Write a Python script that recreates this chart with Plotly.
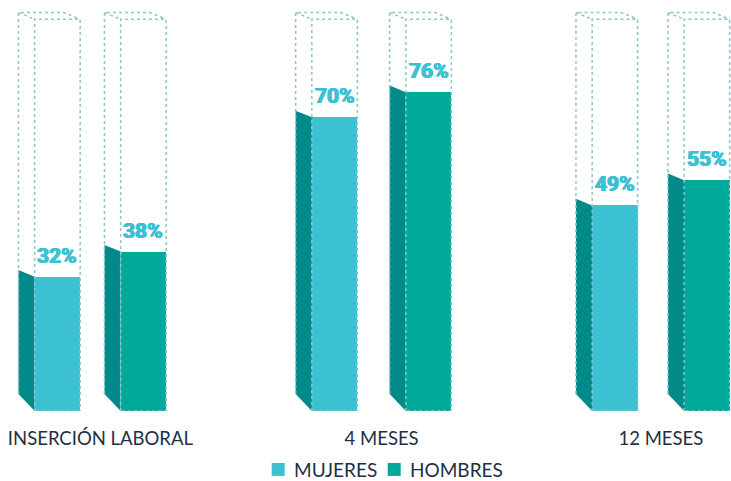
import plotly.graph_objects as go

# ---- data ----
categories = ["INSERCIÓN LABORAL", "4 MESES", "12 MESES"]
series_names = ["MUJERES", "HOMBRES"]
mujeres = [32, 70, 49]
hombres = [38, 76, 55]
label_suffix = "%"

# ---- layout constants (pixels map 1:1 to x units) ----
W, H = 731, 481
BOTTOM_PX = 411.5
PX_PER_PCT = 4.2
GROUP_CENTERS = [100.4, 381.6, 660.9]
HALF_GAP = [43, 47, 46]
FRONT_W = 45.5
SIDE_W = 16.2
TOP_OFF_PX = 6.7
BOT_OFF_PX = 17.0
OUTLINE_TOP_PX = 19.3
LEGEND_Y_PX = 470
LEGEND_SWATCH_X_PX = [271.7, 387.7]
LEGEND_SWATCH = 13
LEGEND_TEXT_GAP = 9

COL_M = "#3cc1d3"
COL_H = "#00a99a"
COL_SIDE = "#02898a"
COL_DOT = "#8ec4ca"
COL_TXT = "#1e2f45"
COL_LBL = "#3cc1d3"

plot_h = BOTTOM_PX
y_max = plot_h / PX_PER_PCT
top_off = TOP_OFF_PX / PX_PER_PCT
bot_off = BOT_OFF_PX / PX_PER_PCT
outline_top = (BOTTOM_PX - OUTLINE_TOP_PX) / PX_PER_PCT


def px_x(p):
    return p / W


def px_y(p):
    return (plot_h - p) / plot_h


fig = go.Figure()
shapes = []
annotations = []
heavy = f"0.7px 0 0 {COL_LBL}, -0.7px 0 0 {COL_LBL}, 0 0.4px 0 {COL_LBL}"

for si, (name, vals, col) in enumerate([(series_names[0], mujeres, COL_M),
                                        (series_names[1], hombres, COL_H)]):
    sign = -1 if si == 0 else 1
    xs = [c + sign * g for c, g in zip(GROUP_CENTERS, HALF_GAP)]
    fig.add_trace(go.Bar(x=xs, y=vals, width=FRONT_W, name=name,
                         marker=dict(color=col, line=dict(width=0)),
                         hoverinfo="skip"))
    for x, v in zip(xs, vals):
        xl = x - FRONT_W / 2
        xr = x + FRONT_W / 2
        xb = xl - SIDE_W
        # side face
        shapes.append(dict(type="path", xref="x", yref="y",
                           path=f"M{xl},{v} L{xb},{v + top_off} L{xb},{bot_off} L{xl},0 Z",
                           fillcolor=COL_SIDE, line=dict(width=0), layer="above"))
        # dotted outline
        ot = outline_top
        bt = outline_top + top_off
        dot = dict(color=COL_DOT, width=1.5, dash="dot")
        shapes.append(dict(type="path", xref="x", yref="y",
                           path=(f"M{xl},0 L{xl},{ot} L{xr},{ot} L{xr},0 Z "
                                 f"M{xb},{bot_off} L{xb},{bt} L{xr - SIDE_W},{bt} L{xr},{ot} "
                                 f"M{xb},{bt} L{xl},{ot}"),
                           line=dot, layer="above"))
        annotations.append(dict(x=x, y=v, xref="x", yref="y",
                                text=f"{v}{label_suffix}", showarrow=False,
                                yanchor="middle", yshift=21,
                                font=dict(family="Roboto", size=21, color=COL_LBL,
                                          weight="bold", shadow=heavy)))

    # manual legend entry
    sx = LEGEND_SWATCH_X_PX[si]
    half = LEGEND_SWATCH / 2
    shapes.append(dict(type="rect", xref="paper", yref="paper",
                       x0=px_x(sx), x1=px_x(sx + LEGEND_SWATCH),
                       y0=px_y(LEGEND_Y_PX + half), y1=px_y(LEGEND_Y_PX - half),
                       fillcolor=col, line=dict(width=0)))
    annotations.append(dict(x=px_x(sx + LEGEND_SWATCH + LEGEND_TEXT_GAP),
                            y=px_y(LEGEND_Y_PX), xref="paper", yref="paper",
                            text=name, showarrow=False, xanchor="left",
                            yanchor="middle", xshift=-2,
                            font=dict(family="Lato", size=19, color=COL_TXT)))

fig.update_layout(
    width=W, height=H,
    margin=dict(l=0, r=0, t=0, b=H - BOTTOM_PX, autoexpand=False),
    paper_bgcolor="white", plot_bgcolor="white",
    showlegend=False,
    xaxis=dict(range=[0, W], showgrid=False, zeroline=False, showline=False,
               automargin=False,
               tickvals=GROUP_CENTERS, ticktext=categories, ticks="",
               ticklabelstandoff=14,
               tickfont=dict(family="Lato", size=18.5, color=COL_TXT)),
    yaxis=dict(range=[0, y_max], visible=False, showgrid=False, zeroline=False),
    shapes=shapes, annotations=annotations, bargap=0,
)

fig.write_html("out.html")
